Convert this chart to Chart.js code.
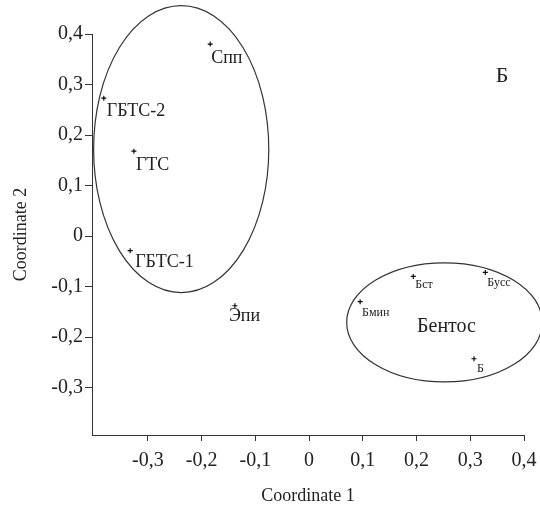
<!DOCTYPE html>
<html>
<head>
<meta charset="utf-8">
<script src="https://cdn.jsdelivr.net/npm/chart.js@4/dist/chart.umd.min.js"></script>
<style>
  html, body { margin: 0; padding: 0; background: #fff; }
  #wrap { width: 540px; height: 511px; }
</style>
</head>
<body>
<div id="wrap"><canvas id="myScatter" width="540" height="511"></canvas></div>
<script>
// site names and their coordinates
const sites = ['Спп', 'ГБТС-2', 'ГТС', 'ГБТС-1', 'Эпи', 'Бмин', 'Бст', 'Бусс', 'Б'];
const coord1 = [-0.184, -0.382, -0.326, -0.333, -0.138, 0.095, 0.194, 0.328, 0.307];
const coord2 = [0.380, 0.273, 0.168, -0.029, -0.138, -0.130, -0.080, -0.072, -0.243];

// group ellipses (centre and half axes, in data units)
const groupNames = ['', 'Бентос'];
const groupCx = [-0.238, 0.252];
const groupCy = [0.172, -0.171];
const groupRx = [0.163, 0.182];
const groupRy = [0.284, 0.118];

// panel letter
const panelLetter = 'Б';
const panelX = 0.359;
const panelY = 0.316;

// ticks
const xTicks = [-0.3, -0.2, -0.1, 0, 0.1, 0.2, 0.3, 0.4];
const xTickLabels = ['-0,3', '-0,2', '-0,1', '0', '0,1', '0,2', '0,3', '0,4'];
const yTicks = [-0.3, -0.2, -0.1, 0, 0.1, 0.2, 0.3, 0.4];
const yTickLabels = ['-0,3', '-0,2', '-0,1', '0', '0,1', '0,2', '0,3', '0,4'];

const serif = '"Liberation Serif", "Times New Roman", serif';
const ink = '#222';

// label placement relative to the marker (pixels), and size
const labelStyle = {
    'Спп':    { dx: 1, dy: 14, size: 18 },
    'ГБТС-2': { dx: 3, dy: 13, size: 18 },
    'ГТС':    { dx: 2, dy: 14, size: 18 },
    'ГБТС-1': { dx: 5, dy: 12, size: 18 },
    'Эпи':    { dx: -6, dy: 11, size: 18 },
    'Бмин':   { dx: 2, dy: 11, size: 12 },
    'Бст':    { dx: 2, dy: 8, size: 12 },
    'Бусс':   { dx: 2, dy: 10, size: 12 },
    'Б':      { dx: 3, dy: 10, size: 12 }
};

const points = sites.map((s, i) => ({ x: coord1[i], y: coord2[i] }));

// draws ellipses, point labels and annotations
const overlay = {
    id: 'overlay',
    afterDatasetsDraw(chart) {
        const ctx = chart.ctx;
        const xs = chart.scales.x, ys = chart.scales.y;
        ctx.save();

        // ellipses
        ctx.strokeStyle = '#333';
        ctx.lineWidth = 1.2;
        for (let i = 0; i < groupCx.length; i++) {
            const cx = xs.getPixelForValue(groupCx[i]);
            const cy = ys.getPixelForValue(groupCy[i]);
            const rx = Math.abs(xs.getPixelForValue(groupCx[i] + groupRx[i]) - cx);
            const ry = Math.abs(ys.getPixelForValue(groupCy[i] + groupRy[i]) - cy);
            ctx.beginPath();
            ctx.ellipse(cx, cy, rx, ry, 0, 0, Math.PI * 2);
            ctx.stroke();
            if (groupNames[i]) {
                ctx.fillStyle = ink;
                ctx.font = '20px ' + serif;
                ctx.textAlign = 'center';
                ctx.textBaseline = 'middle';
                ctx.fillText(groupNames[i], cx + 2, cy + 4);
            }
        }

        // point labels
        ctx.fillStyle = ink;
        ctx.textAlign = 'left';
        ctx.textBaseline = 'middle';
        sites.forEach((s, i) => {
            const st = labelStyle[s];
            const px = xs.getPixelForValue(coord1[i]);
            const py = ys.getPixelForValue(coord2[i]);
            ctx.font = st.size + 'px ' + serif;
            ctx.fillText(s, px + st.dx, py + st.dy);
        });

        // panel letter
        ctx.font = '22px ' + serif;
        ctx.textAlign = 'center';
        ctx.fillText(panelLetter, xs.getPixelForValue(panelX), ys.getPixelForValue(panelY));

        ctx.restore();
    }
};

const ctx = document.getElementById('myScatter').getContext('2d');
new Chart(ctx, {
    type: 'scatter',
    data: {
        datasets: [{
            data: points,
            pointStyle: 'cross',
            pointRadius: 2.5,
            pointBorderWidth: 1.1,
            borderColor: '#000',
            backgroundColor: '#000'
        }]
    },
    options: {
        responsive: false,
        animation: false,
        layout: { padding: { top: 34, right: 16, left: 0, bottom: 0 } },
        plugins: {
            legend: { display: false },
            tooltip: { enabled: false }
        },
        scales: {
            x: {
                type: 'linear',
                min: -0.404,
                max: 0.4,
                afterBuildTicks: s => { s.ticks = xTicks.map(v => ({ value: v })); },
                afterFit: s => { s.height = 76; s.paddingLeft = 0; s.paddingRight = 0; },
                grid: { drawOnChartArea: false, drawTicks: true, tickLength: 6, color: '#333' },
                border: { display: true, color: '#333', width: 1 },
                ticks: {
                    color: ink,
                    padding: 8,
                    maxRotation: 0,
                    font: { family: serif, size: 20 },
                    callback: (v, i) => xTickLabels[i]
                },
                title: {
                    display: true,
                    text: 'Coordinate 1',
                    color: ink,
                    font: { family: serif, size: 18 },
                    padding: { top: 0, bottom: 4 }
                }
            },
            y: {
                type: 'linear',
                min: -0.394,
                max: 0.4,
                afterBuildTicks: s => { s.ticks = yTicks.map(v => ({ value: v })); },
                afterFit: s => { s.width = 92; s.paddingTop = 0; s.paddingBottom = 0; },
                grid: { drawOnChartArea: false, drawTicks: true, tickLength: 7, color: '#333' },
                border: { display: true, color: '#333', width: 1 },
                ticks: {
                    color: ink,
                    padding: 2,
                    font: { family: serif, size: 20 },
                    callback: (v, i) => yTickLabels[i]
                },
                title: {
                    display: true,
                    text: 'Coordinate 2',
                    color: ink,
                    font: { family: serif, size: 18 },
                    padding: { top: 10, bottom: 0 }
                }
            }
        }
    },
    plugins: [overlay]
});
</script>
</body>
</html>
